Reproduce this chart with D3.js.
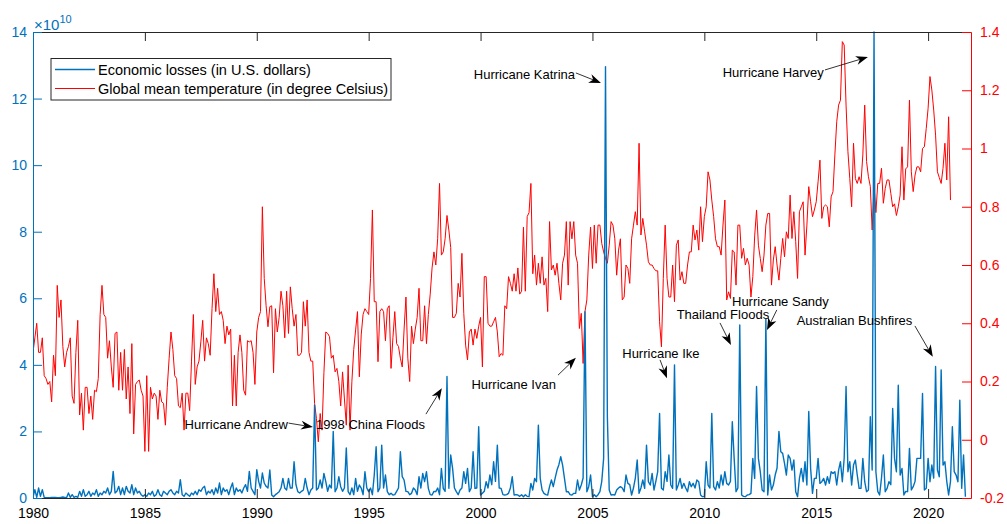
<!DOCTYPE html>
<html>
<head>
<meta charset="utf-8">
<script src="https://cdn.jsdelivr.net/npm/d3@7"></script>
<style>
  body { margin: 0; background: #fff; }
  svg { font-family: "Liberation Sans", Arial, Helvetica, sans-serif; }
</style>
</head>
<body>
<svg id="chart" width="1007" height="524"></svg>
<script>
let startYear = 1980;
let endYear = 2021 + 11 / 12;
let xTicks = [1980, 1985, 1990, 1995, 2000, 2005, 2010, 2015, 2020];
let lossTicks = [0, 2, 4, 6, 8, 10, 12, 14];
let tempTicks = [-0.2, 0, 0.2, 0.4, 0.6, 0.8, 1, 1.2, 1.4];
let seriesNames = ["Economic losses (in U.S. dollars)", "Global mean temperature (in degree Celsius)"];

// monthly economic losses, in 10^10 USD, from Jan 1980
let losses = [
  0.02, 0.25, 0.02, 0.3, 0.05, 0.25, 0.02, 0.01, 0.01, 0.01, 0.02, 0.02,
  0.02, 0.01, 0.01, 0.02, 0.03, 0.02, 0.01, 0.15, 0.02, 0.1, 0.02, 0.05,
  0.02, 0.2, 0.05, 0.25, 0.05, 0.1, 0.2, 0.05, 0.15, 0.1, 0.25, 0.05,
  0.15, 0.1, 0.2, 0.15, 0.3, 0.1, 0.2, 0.8, 0.15, 0.2, 0.35, 0.1,
  0.3, 0.1, 0.35, 0.2, 0.15, 0.4, 0.1, 0.3, 0.15, 0.2, 0.1, 0.05,
  0.1, 0.05, 0.15, 0.1, 0.2, 0.05, 0.1, 0.25, 0.1, 0.05, 0.2, 0.15,
  0.1, 0.2, 0.25, 0.15, 0.1, 0.2, 0.15, 0.55, 0.1, 0.05, 0.15, 0.1,
  0.05, 0.15, 0.1, 0.2, 0.1, 0.25, 0.2, 0.3, 0.35, 0.1, 0.2, 0.15,
  0.25, 0.1, 0.3, 0.15, 0.45, 0.1, 0.3, 0.2, 0.25, 0.1, 0.3, 0.45,
  0.1, 0.3, 0.2, 0.25, 0.15, 0.3, 0.4, 0.2, 0.8, 0.3, 0.2, 0.1,
  0.85, 0.5, 0.3, 0.75, 0.45, 0.35, 0.3, 0.84, 0.09, 0.04, 0.1, 0.14,
  0.19, 0.3, 0.59, 0.3, 0.24, 0.59, 0.3, 0.3, 1.09, 0.4, 0.19, 0.15,
  0.2, 0.24, 0.59, 0.3, 0.1, 0.24, 0.3, 2.79, 0.24, 0.3, 0.54, 0.3,
  0.74, 0.49, 0.2, 0.39, 0.3, 2.0, 0.19, 0.3, 0.64, 0.34, 0.2, 0.3,
  1.5, 0.19, 0.1, 0.3, 0.1, 0.59, 0.2, 0.39, 0.3, 0.1, 0.79, 0.3,
  0.19, 0.3, 0.1, 0.69, 1.54, 0.19, 0.3, 1.59, 0.3, 0.69, 0.19, 0.1,
  0.14, 0.09, 0.1, 0.2, 0.3, 1.39, 0.64, 0.54, 0.2, 0.19, 0.1, 0.14,
  0.3, 0.24, 0.1, 0.64, 0.3, 0.74, 0.49, 0.79, 0.29, 0.1, 0.09, 0.2,
  0.19, 0.3, 0.1, 0.89, 0.29, 0.2, 3.65, 0.29, 1.29, 0.89, 0.3, 0.19,
  0.1, 0.24, 0.3, 0.79, 0.44, 0.89, 0.19, 0.3, 1.39, 0.29, 0.3, 2.14,
  0.09, 0.14, 0.2, 0.49, 0.3, 0.69, 0.4, 1.09, 0.5, 1.59, 0.3, 0.29,
  0.1, 0.09, 0.1, 0.14, 0.3, 0.64, 0.09, 0.1, 0.09, 0.05, 0.1, 0.04,
  0.1, 0.05, 0.04, 0.44, 0.24, 0.59, 0.49, 2.19, 0.59, 0.24, 0.14, 0.1,
  0.09, 0.34, 0.54, 0.34, 0.6, 0.84, 1.0, 1.24, 0.99, 0.59, 0.19, 0.19,
  0.1, 0.09, 0.14, 0.14, 0.54, 0.24, 0.39, 0.6, 5.6, 0.19, 0.34, 0.69,
  0.04, 0.1, 0.04, 0.1, 0.19, 0.5, 1.19, 12.96, 2.44, 0.24, 0.09, 0.1,
  0.09, 0.24, 0.3, 0.34, 0.3, 0.19, 0.69, 0.44, 0.4, 0.09, 0.3, 0.6,
  1.14, 0.14, 0.3, 0.54, 0.29, 1.59, 0.49, 0.39, 0.74, 0.24, 0.5, 0.79,
  2.54, 0.29, 0.24, 0.79, 0.5, 1.29, 0.39, 0.29, 4.0, 0.24, 0.39, 0.59,
  0.29, 0.44, 0.3, 0.19, 0.49, 0.34, 0.44, 0.3, 0.54, 0.49, 0.09, 0.04,
  0.04, 1.09, 0.39, 0.3, 2.54, 0.34, 0.24, 0.49, 0.3, 0.69, 0.39, 0.79,
  0.44, 0.39, 0.5, 2.29, 1.19, 0.19, 0.3, 5.2, 0.09, 0.05, 0.04, 0.09,
  0.1, 0.14, 1.19, 0.59, 3.35, 1.19, 0.79, 0.24, 0.19, 5.38, 0.09, 0.69,
  0.24, 0.39, 0.69, 0.9, 2.0, 1.39, 1.34, 1.04, 0.69, 1.29, 1.19, 0.84,
  1.14, 0.19, 0.04, 0.59, 0.89, 0.49, 1.09, 0.39, 2.6, 0.89, 0.14, 0.59,
  0.59, 1.19, 0.44, 0.49, 0.59, 0.39, 0.64, 0.44, 0.79, 0.74, 0.79, 0.39,
  0.84, 1.09, 0.49, 1.2, 3.35, 0.79, 1.09, 0.39, 0.99, 1.14, 0.69, 0.29,
  0.29, 1.19, 0.49, 0.19, 0.24, 2.44, 0.84, 14.0, 0.79, 0.2, 0.09, 0.6,
  1.29, 0.19, 0.29, 0.49, 0.4, 2.69, 1.19, 0.79, 3.39, 0.69, 0.89, 0.09,
  0.2, 0.19, 1.49, 0.24, 0.34, 0.5, 1.19, 1.19, 1.19, 3.14, 0.24, 0.29,
  1.19, 0.49, 0.99, 0.6, 3.95, 0.84, 0.64, 3.85, 0.99, 1.09, 0.5, 0.09,
  0.49, 2.14, 0.79, 0.69, 0.49, 2.94, 0.29, 1.29, 0.04
];

// monthly global mean temperature anomaly, from Jan 1980
let temps = [
  0.30, 0.35, 0.40, 0.30, 0.30, 0.35, 0.22, 0.21, 0.19, 0.20, 0.13, 0.29,
  0.22, 0.53, 0.42, 0.48, 0.32, 0.25, 0.30, 0.32, 0.35, 0.15, 0.125, 0.30,
  0.41, 0.085, 0.16, 0.033, 0.18, 0.18, 0.09, 0.15, 0.07, 0.17, 0.165, 0.21,
  0.43, 0.53, 0.43, 0.42, 0.28, 0.34, 0.25, 0.18, 0.365, 0.37, 0.17, 0.30,
  0.17, 0.31, 0.14, 0.25, 0.09, 0.33, 0.02, 0.19, 0.20, 0.205, 0.17, 0.15,
  -0.04, 0.22, -0.04, 0.18, 0.14, 0.16, 0.15, 0.07, 0.17, 0.13, 0.125, 0.05,
  0.18, 0.28, 0.37, 0.31, 0.22, 0.21, 0.116, 0.11, 0.16, 0.033, 0.16, 0.16,
  0.10, 0.27, 0.43, 0.19, 0.25, 0.27, 0.336, 0.41, 0.27, 0.35, 0.33, 0.29,
  0.45, 0.57, 0.44, 0.52, 0.43, 0.44, 0.41, 0.33, 0.39, 0.36, 0.38, 0.116,
  0.29, 0.116, 0.30, 0.36, 0.30, 0.17, 0.153, 0.34, 0.336, 0.34, 0.30, 0.19,
  0.37, 0.42, 0.44, 0.80, 0.554, 0.46, 0.388, 0.457, 0.46, 0.23, 0.45, 0.37,
  0.42, 0.51, 0.46, 0.35, 0.51, 0.365, 0.525, 0.45, 0.39, 0.43, 0.29, 0.29,
  0.30, 0.474, 0.39, 0.48, 0.30, 0.27, 0.27, 0.125, 0.073, -0.007, 0.09, 0.033,
  0.23, 0.37, 0.365, 0.354, 0.28, 0.29, 0.233, 0.245, 0.20, 0.116, 0.233, 0.14,
  0.05, 0.256, 0.033, 0.20, 0.31, 0.377, 0.44, 0.216, 0.36, 0.43, 0.45, 0.44,
  0.43, 0.554, 0.789, 0.474, 0.474, 0.268, 0.44, 0.45, 0.44, 0.34, 0.45, 0.46,
  0.245, 0.35, 0.44, 0.33, 0.32, 0.28, 0.25, 0.38, 0.49, 0.28, 0.20, 0.39,
  0.33, 0.38, 0.42, 0.52, 0.34, 0.34, 0.46, 0.33, 0.43, 0.50, 0.59, 0.645,
  0.60, 0.69, 0.88, 0.634, 0.645, 0.69, 0.77, 0.72, 0.66, 0.42, 0.42, 0.434,
  0.537, 0.49, 0.64, 0.434, 0.325, 0.274, 0.37, 0.38, 0.325, 0.38, 0.348, 0.39,
  0.42, 0.25, 0.56, 0.56, 0.40, 0.39, 0.39, 0.405, 0.42, 0.37, 0.285, 0.296,
  0.29, 0.46, 0.45, 0.56, 0.537, 0.51, 0.57, 0.51, 0.59, 0.50, 0.51, 0.73,
  0.51, 0.766, 0.78, 0.88, 0.57, 0.634, 0.531, 0.606, 0.537, 0.628, 0.531, 0.554,
  0.44, 0.749, 0.583, 0.60, 0.565, 0.606, 0.537, 0.48, 0.606, 0.634, 0.749, 0.531,
  0.749, 0.69, 0.749, 0.634, 0.606, 0.382, 0.434, 0.262, 0.44, 0.48, 0.634, 0.73,
  0.588, 0.737, 0.606, 0.737, 0.737, 0.674, 0.645, 0.623, 0.606, 0.668, 0.749, 0.737,
  0.69, 0.565, 0.651, 0.69, 0.48, 0.49, 0.60, 0.588, 0.537, 0.69, 0.737, 0.783,
  0.737, 1.018, 0.703, 0.76, 0.714, 0.668, 0.611, 0.60, 0.60, 0.588, 0.58, 0.58,
  0.405, 0.319, 0.554, 0.737, 0.554, 0.49, 0.49, 0.60, 0.474, 0.668, 0.686, 0.548,
  0.577, 0.537, 0.537, 0.60, 0.645, 0.645, 0.737, 0.686, 0.72, 0.651, 0.80, 0.68,
  0.766, 0.80, 0.92, 0.892, 0.823, 0.766, 0.69, 0.663, 0.663, 0.634, 0.737, 0.823,
  0.48, 0.508, 0.485, 0.651, 0.645, 0.531, 0.737, 0.737, 0.623, 0.657, 0.60, 0.623,
  0.60, 0.49, 0.56, 0.70, 0.789, 0.668, 0.623, 0.577, 0.634, 0.737, 0.777, 0.777,
  0.531, 0.617, 0.663, 0.60, 0.548, 0.623, 0.691, 0.628, 0.714, 0.691, 0.84, 0.691,
  0.783, 0.68, 0.554, 0.783, 0.80, 0.817, 0.634, 0.737, 0.869, 0.817, 0.766, 0.789,
  0.817, 0.886, 0.96, 0.76, 0.80, 0.806, 0.80, 0.731, 0.834, 0.852, 0.978, 1.092,
  1.149, 1.166, 1.367, 1.355, 1.149, 0.989, 0.897, 0.80, 1.018, 0.897, 0.88, 0.903,
  0.88, 0.978, 1.149, 0.955, 0.903, 0.87, 0.72, 0.874, 0.78, 0.88, 0.88, 0.932,
  0.812, 0.863, 0.892, 0.892, 0.846, 0.80, 0.81, 0.77, 0.80, 0.84, 1.006, 0.823,
  0.93, 0.937, 1.166, 0.92, 0.852, 0.909, 0.937, 0.937, 0.92, 1.0, 1.006, 1.069,
  1.138, 1.247, 1.201, 1.132, 1.046, 0.92, 0.90, 0.88, 0.932, 1.018, 0.892, 1.109,
  0.823
];

// event labels: text spot and arrow in [year, loss] coordinates
let eventNames = ["Hurricane Andrew", "1998 China Floods", "Hurricane Ivan", "Hurricane Katrina",
  "Hurricane Ike", "Thailand Floods", "Hurricane Sandy", "Hurricane Harvey", "Australian Bushfires"];
let eventText = [[1991.39, 2.22], [1997.52, 2.22], [2003.37, 3.42], [2004.22, 12.74],
  [2008.06, 4.36], [2010.83, 5.53], [2013.40, 5.92], [2015.34, 12.78], [2016.71, 5.35]];
let eventAnchor = ["end", "end", "end", "end", "middle", "middle", "middle", "end", "middle"];
let arrowTail = [[1991.42, 2.25], [1997.56, 2.52], [2003.46, 3.69], [2004.26, 12.77],
  [2008.02, 4.15], [2010.70, 5.26], [2013.24, 5.65], [2015.39, 12.86], [2019.41, 5.17]];
let arrowHead = [[1992.51, 2.13], [1998.27, 3.30], [2004.26, 4.21], [2005.38, 12.47],
  [2008.33, 3.60], [2011.19, 4.60], [2012.80, 5.05], [2017.31, 13.25], [2020.21, 4.24]];

let blue = "#0072BD";
let red = "#FF0000";
let dark = "#262626";

let plotLeft = 33, plotRight = 971, plotTop = 32, plotBottom = 498;

let svg = d3.select("#chart");

let xScale = d3.scaleLinear().domain([startYear, endYear]).range([plotLeft, plotRight]);
let yLoss = d3.scaleLinear().domain([0, 14]).range([plotBottom, plotTop]);
let yTemp = d3.scaleLinear().domain([-0.2, 1.4]).range([plotBottom, plotTop]);

svg.append("defs").append("clipPath")
  .attr("id", "plotClip")
  .append("rect")
  .attr("x", plotLeft).attr("y", plotTop - 1)
  .attr("width", plotRight - plotLeft).attr("height", plotBottom - plotTop + 1);

let plot = svg.append("g").attr("clip-path", "url(#plotClip)");

// temperature line
let tempLine = d3.line()
  .x((d, i) => xScale(startYear + i / 12))
  .y(d => yTemp(d));

plot.append("path")
  .datum(temps)
  .attr("fill", "none")
  .attr("stroke", red)
  .attr("stroke-width", 1)
  .attr("stroke-linejoin", "round")
  .attr("d", tempLine);

// losses line
let lossLine = d3.line()
  .x((d, i) => xScale(startYear + i / 12))
  .y(d => yLoss(d));

plot.append("path")
  .datum(losses)
  .attr("fill", "none")
  .attr("stroke", blue)
  .attr("stroke-width", 1.4)
  .attr("stroke-linejoin", "round")
  .attr("d", lossLine);

// axes
function styleAxis(g, color) {
  g.attr("font-size", 14)
    .attr("font-family", "'Liberation Sans', Arial, Helvetica, sans-serif");
  g.select(".domain").attr("stroke", color);
  g.selectAll(".tick line").attr("stroke", color);
  g.selectAll(".tick text").attr("fill", color);
}

let xAxis = d3.axisBottom(xScale)
  .tickValues(xTicks)
  .tickFormat(d3.format("d"))
  .tickSizeInner(-9)
  .tickSizeOuter(0)
  .tickPadding(10);

svg.append("g")
  .attr("transform", `translate(0, ${plotBottom})`)
  .call(xAxis)
  .call(g => styleAxis(g, dark))
  .call(g => g.selectAll(".tick text").attr("fill", "#000"));

svg.append("g")
  .attr("transform", `translate(0, ${plotTop})`)
  .call(d3.axisTop(xScale).tickValues(xTicks).tickFormat("").tickSizeInner(-9).tickSizeOuter(0))
  .call(g => styleAxis(g, dark));

svg.append("g")
  .attr("transform", `translate(${plotLeft}, 0)`)
  .call(d3.axisLeft(yLoss).tickValues(lossTicks).tickFormat(d3.format("d"))
    .tickSizeInner(-9).tickSizeOuter(0).tickPadding(6))
  .call(g => styleAxis(g, blue));

svg.append("g")
  .attr("transform", `translate(${plotRight}, 0)`)
  .call(d3.axisRight(yTemp).tickValues(tempTicks)
    .tickFormat(d => String(Math.round(d * 10) / 10))
    .tickSizeInner(-9).tickSizeOuter(0).tickPadding(9))
  .call(g => styleAxis(g, red));

// x 10^10 exponent label
let expo = svg.append("text")
  .attr("x", plotLeft + 1)
  .attr("y", plotTop - 2)
  .attr("fill", blue)
  .attr("font-size", 15)
  .text("\u00d710");
expo.append("tspan")
  .attr("dy", -7)
  .attr("font-size", 11)
  .text("10");

// legend
let legend = svg.append("g");
legend.append("rect")
  .attr("x", 51).attr("y", 58.5)
  .attr("width", 340).attr("height", 41.5)
  .attr("fill", "#fff")
  .attr("stroke", dark)
  .attr("stroke-width", 1);

[blue, red].forEach(function (c, i) {
  let yy = 69.5 + i * 19;
  legend.append("line")
    .attr("x1", 55).attr("x2", 95)
    .attr("y1", yy).attr("y2", yy)
    .attr("stroke", c)
    .attr("stroke-width", i === 0 ? 1.4 : 1);
  legend.append("text")
    .attr("x", 98).attr("y", yy)
    .attr("dy", "0.36em")
    .attr("font-size", 14.5)
    .attr("fill", "#000")
    .text(seriesNames[i]);
});

// annotations with arrows
let notes = svg.append("g");
eventNames.forEach(function (name, i) {
  let tx = xScale(arrowTail[i][0]), ty = yLoss(arrowTail[i][1]);
  let hx = xScale(arrowHead[i][0]), hy = yLoss(arrowHead[i][1]);
  let a = Math.atan2(hy - ty, hx - tx);
  let len = 12, wid = 4.5;
  let ux = Math.cos(a), uy = Math.sin(a);
  let bx = hx - len * ux, by = hy - len * uy;
  let nx = hx - 0.7 * len * ux, ny = hy - 0.7 * len * uy;

  notes.append("line")
    .attr("x1", tx).attr("y1", ty)
    .attr("x2", nx).attr("y2", ny)
    .attr("stroke", "#000")
    .attr("stroke-width", 0.8);

  notes.append("path")
    .attr("d", `M${hx},${hy}L${bx - wid * uy},${by + wid * ux}L${nx},${ny}L${bx + wid * uy},${by - wid * ux}Z`)
    .attr("fill", "#000");

  notes.append("text")
    .attr("x", xScale(eventText[i][0]))
    .attr("y", yLoss(eventText[i][1]))
    .attr("dy", "0.36em")
    .attr("text-anchor", eventAnchor[i])
    .attr("font-size", 13)
    .attr("fill", "#000")
    .text(name);
});
</script>
</body>
</html>
